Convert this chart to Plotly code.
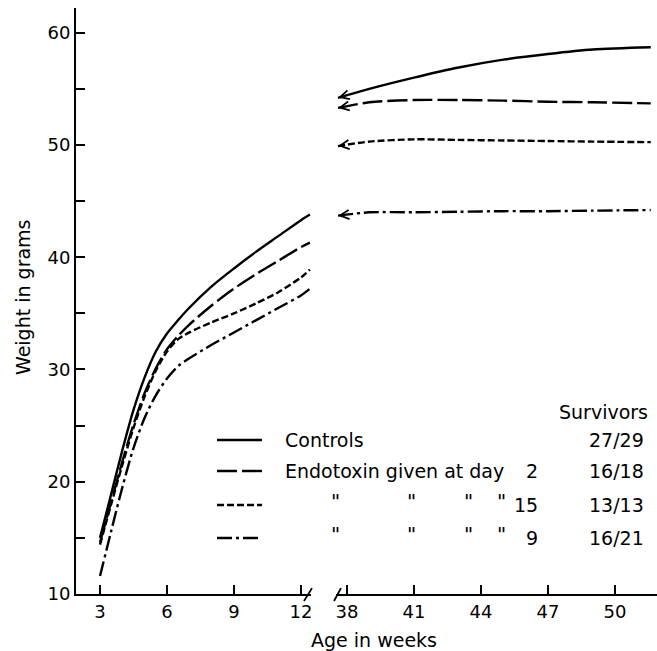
import plotly.graph_objects as go

# ---------------- data ----------------
weeks_early = [3, 3.5, 4, 4.5, 5, 5.5, 6, 6.5, 7, 8, 9, 10, 11, 12, 12.4]
controls_early = [15.0, 18.9, 22.8, 26.4, 29.3, 31.6, 33.2, 34.4, 35.5, 37.4, 39.0, 40.5, 41.9, 43.3, 43.8]
day2_early = [14.6, 18.2, 21.8, 25.1, 27.9, 30.1, 31.8, 33.0, 34.0, 35.7, 37.2, 38.5, 39.7, 40.9, 41.3]
day15_early = [14.4, 18.0, 21.5, 24.8, 27.6, 29.9, 31.6, 32.7, 33.3, 34.2, 35.0, 35.9, 36.9, 38.2, 38.9]
day9_early = [11.6, 15.6, 19.5, 23.0, 25.7, 27.7, 29.2, 30.3, 31.0, 32.2, 33.3, 34.4, 35.5, 36.6, 37.2]

weeks_late = [37.6, 39, 41, 43, 45, 47, 49, 51.6]
controls_late = [54.2, 55.0, 56.0, 56.9, 57.6, 58.1, 58.5, 58.7]
day2_late = [53.3, 53.8, 54.0, 54.0, 53.95, 53.85, 53.8, 53.7]
day15_late = [49.9, 50.3, 50.5, 50.45, 50.4, 50.35, 50.3, 50.25]
day9_late = [43.7, 44.0, 44.0, 44.05, 44.1, 44.1, 44.15, 44.2]

ticks_early = [3, 6, 9, 12]
ticks_late = [38, 41, 44, 47, 50]
y_ticks = [10, 15, 20, 25, 30, 35, 40, 45, 50, 55, 60]
y_ticklabels = ["10", "", "20", "", "30", "", "40", "", "50", "", "60"]

legend_labels = ["Controls", "Endotoxin given at day", "", ""]
legend_days = ["", "2", "15", "9"]
survivors = ["27/29", "16/18", "13/13", "16/21"]

series = [
    (controls_early, controls_late, "solid"),
    (day2_early, day2_late, "20px,5px"),
    (day15_early, day15_late, "7px,3px"),
    (day9_early, day9_late, "15px,4px,3px,4px"),
]

FONT = "DejaVu Sans"
LW = 2.4

fig = go.Figure()
annotations = []
for early, late, dash in series:
    fig.add_trace(go.Scatter(x=weeks_early, y=early, mode="lines", xaxis="x", yaxis="y",
                             line=dict(color="black", width=LW, dash=dash, shape="spline", smoothing=0.8),
                             showlegend=False, hoverinfo="skip"))
    fig.add_trace(go.Scatter(x=weeks_late, y=late, mode="lines", xaxis="x2", yaxis="y",
                             line=dict(color="black", width=LW, dash=dash, shape="spline", smoothing=0.8),
                             showlegend=False, hoverinfo="skip"))
    # arrowheads at the break
    f = 0.3
    annotations.append(dict(x=weeks_early[-1], y=early[-1], xref="x", yref="y",
                            ax=weeks_early[-1] - f * (weeks_early[-1] - weeks_early[-2]),
                            ay=early[-1] - f * (early[-1] - early[-2]),
                            axref="x", ayref="y", showarrow=True, arrowhead=5,
                            arrowsize=1.0, arrowwidth=1.8, arrowcolor="black", text=""))
    annotations.append(dict(x=weeks_late[0], y=late[0], xref="x2", yref="y",
                            ax=weeks_late[0] + 0.2 * (weeks_late[1] - weeks_late[0]),
                            ay=late[0] + 0.2 * (late[1] - late[0]),
                            axref="x2", ayref="y", showarrow=True, arrowhead=5,
                            arrowsize=1.0, arrowwidth=1.8, arrowcolor="black", text=""))

# ---------------- legend (drawn) ----------------
rows_y = [0.2628, 0.2099, 0.1519, 0.0956]
shapes = []
for (early, late, dash), ry in zip(series, rows_y):
    shapes.append(dict(type="line", xref="paper", yref="paper", x0=0.2427, x1=0.3201, y0=ry, y1=ry,
                       line=dict(color="black", width=LW, dash=dash)))

txt_font = dict(family=FONT, size=19, color="black")
for lab, ry in zip(legend_labels, rows_y):
    if lab:
        annotations.append(dict(x=0.3563, y=ry, xref="paper", yref="paper", text=lab, showarrow=False,
                                xanchor="left", yanchor="middle", font=txt_font))
for i, (day, ry) in enumerate(zip(legend_days, rows_y)):
    if day:
        if i >= 2:
            for qx in [0.4458, 0.5783, 0.6747, 0.7332]:
                annotations.append(dict(x=qx, y=ry + 0.006, xref="paper", yref="paper", text='"',
                                        showarrow=False, xanchor="center", yanchor="middle",
                                        font=dict(family=FONT, size=20, color="black")))
        annotations.append(dict(x=0.7986, y=ry, xref="paper", yref="paper", text=day, showarrow=False,
                                xanchor="right", yanchor="middle", font=txt_font))
for s, ry in zip(survivors, rows_y):
    annotations.append(dict(x=0.9811, y=ry, xref="paper", yref="paper", text=s, showarrow=False,
                            xanchor="right", yanchor="middle", font=txt_font))
annotations.append(dict(x=0.988, y=0.3106, xref="paper", yref="paper", text="Survivors", showarrow=False,
                        xanchor="right", yanchor="middle", font=txt_font))

# axis titles
annotations.append(dict(x=0.513, y=-0.0785, xref="paper", yref="paper", text="Age in weeks", showarrow=False,
                        xanchor="center", yanchor="middle", font=txt_font))
annotations.append(dict(x=-0.0912, y=0.5068, xref="paper", yref="paper", text="Weight in grams",
                        showarrow=False, textangle=-90, xanchor="center", yanchor="middle", font=txt_font))

# axis-break slashes
for xa, xb in [(0.3924, 0.4062), (0.4441, 0.4561)]:
    shapes.append(dict(type="line", xref="paper", yref="paper", x0=xa, x1=xb, y0=-0.012, y1=0.01,
                       line=dict(color="black", width=1.8)))

tick_font = dict(family=FONT, size=18, color="black")
axis_common = dict(showline=True, linecolor="black", linewidth=2, ticks="inside", ticklen=9,
                   tickwidth=1.6, tickcolor="black", showgrid=False, zeroline=False,
                   tickfont=tick_font, fixedrange=True)

fig.update_layout(
    width=657, height=651,
    margin=dict(l=76, r=0, t=8, b=57),
    paper_bgcolor="white", plot_bgcolor="white",
    showlegend=False,
    xaxis=dict(domain=[0, 0.4045], range=[1.925, 12.45], tickvals=ticks_early, anchor="y", **axis_common),
    xaxis2=dict(domain=[0.4475, 1], range=[37.51, 51.88], tickvals=ticks_late, anchor="y", **axis_common),
    yaxis=dict(range=[10, 62.2], tickvals=y_ticks, ticktext=y_ticklabels, anchor="x", **axis_common),
    annotations=annotations,
    shapes=shapes,
)

fig.write_html("out.html")
